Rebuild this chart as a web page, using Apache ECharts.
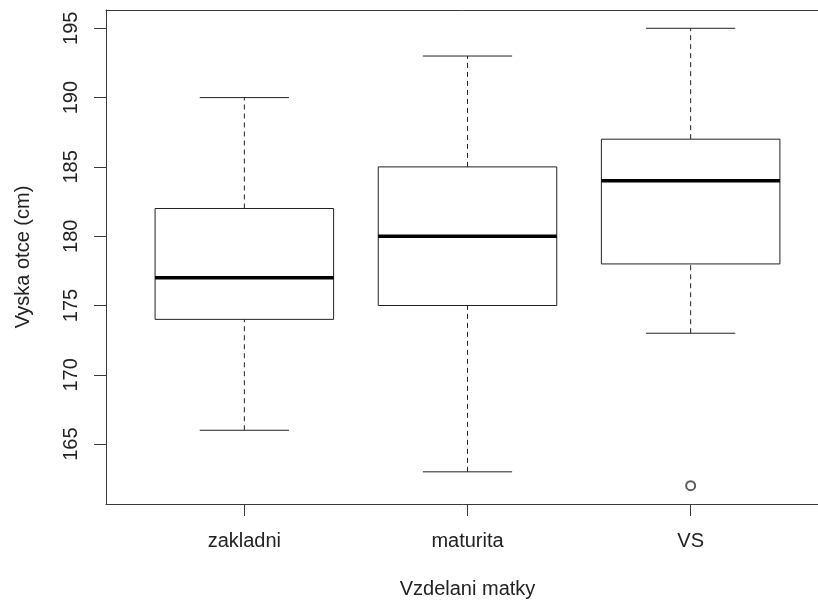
<!DOCTYPE html>
<html>
<head>
<meta charset="utf-8">
<script src="https://cdn.jsdelivr.net/npm/echarts@6/dist/echarts.min.js"></script>
<style>html,body{margin:0;padding:0;background:#fff;}#c{width:818px;height:600px;}</style>
</head>
<body>
<div id="c"></div>
<script>
var categories = ['zakladni', 'maturita', 'VS'];
var whiskerLow = [166, 163, 173];
var q1 = [174, 175, 178];
var medians = [177, 180, 184];
var q3 = [182, 185, 187];
var whiskerHigh = [190, 193, 195];
var outlierGroup = [3];
var outlierValue = [162];
var yTicks = [165, 170, 175, 180, 185, 190, 195];

var boxData = categories.map(function (c, i) {
  return [i + 1, whiskerLow[i], q1[i], medians[i], q3[i], whiskerHigh[i]];
});
var outData = outlierGroup.map(function (g, i) { return [g, outlierValue[i]]; });

var FONT = 'Liberation Sans, Arial, sans-serif';
var FRAME = {color: '#3a3a3a', width: 1};
var chart = echarts.init(document.getElementById('c'), null, {renderer: 'canvas'});
chart.setOption({
  animation: false,
  backgroundColor: '#ffffff',
  grid: {left: 106, top: 10, width: 723, height: 494, outerBoundsMode: 'none', containLabel: false, show: false},
  xAxis: [{
    type: 'value', min: 0.38, max: 3.62, position: 'bottom',
    name: 'Vzdelani matky', nameLocation: 'middle', nameGap: 75,
    nameTextStyle: {fontFamily: FONT, fontSize: 20, color: '#222'},
    axisLine: {show: true, onZero: false, lineStyle: FRAME},
    splitLine: {show: false},
    axisTick: {show: true, length: 12, lineStyle: FRAME, customValues: [1, 2, 3]},
    axisLabel: {show: true, margin: 27, fontFamily: FONT, fontSize: 20, color: '#222',
      customValues: [1, 2, 3],
      formatter: function (v) { return categories[Math.round(v) - 1] || ''; }}
  }, {
    type: 'value', min: 0.38, max: 3.62, position: 'top',
    axisLine: {show: true, onZero: false, lineStyle: FRAME},
    axisTick: {show: false}, axisLabel: {show: false}, splitLine: {show: false}
  }],
  yAxis: {
    type: 'value', min: 160.68, max: 196.32,
    name: 'Vyska otce (cm)', nameLocation: 'middle', nameGap: 73, nameRotate: 90,
    nameTextStyle: {fontFamily: FONT, fontSize: 20, color: '#222'},
    axisLine: {show: true, onZero: false, lineStyle: FRAME},
    splitLine: {show: false},
    axisTick: {show: true, length: 12, lineStyle: FRAME, customValues: yTicks},
    axisLabel: {show: true, rotate: 90, margin: 25, fontFamily: FONT, fontSize: 20, color: '#222',
      customValues: yTicks}
  },
  series: [
    {
      type: 'custom',
      data: boxData,
      renderItem: function (params, api) {
        var x = api.value(0);
        var lo = api.value(1), a = api.value(2), m = api.value(3), b = api.value(4), hi = api.value(5);
        var hw = 0.4, cw = 0.2;
        function P(xx, yy) { return api.coord([xx, yy]); }
        var stroke = '#222';
        var pl = P(x - hw, b), pr = P(x + hw, a);
        var children = [
          {type: 'line', shape: {x1: P(x, b)[0], y1: P(x, b)[1], x2: P(x, hi)[0], y2: P(x, hi)[1]},
            style: {stroke: stroke, lineWidth: 1, lineDash: [5, 4]}},
          {type: 'line', shape: {x1: P(x, lo)[0], y1: P(x, lo)[1], x2: P(x, a)[0], y2: P(x, a)[1]},
            style: {stroke: stroke, lineWidth: 1, lineDash: [5, 4]}},
          {type: 'line', shape: {x1: P(x - cw, hi)[0], y1: P(x, hi)[1], x2: P(x + cw, hi)[0], y2: P(x, hi)[1]},
            style: {stroke: stroke, lineWidth: 1}},
          {type: 'line', shape: {x1: P(x - cw, lo)[0], y1: P(x, lo)[1], x2: P(x + cw, lo)[0], y2: P(x, lo)[1]},
            style: {stroke: stroke, lineWidth: 1}},
          {type: 'rect', shape: {x: pl[0], y: pl[1], width: pr[0] - pl[0], height: pr[1] - pl[1]},
            style: {fill: '#ffffff', stroke: stroke, lineWidth: 1}},
          {type: 'line', shape: {x1: P(x - hw, m)[0], y1: P(x, m)[1], x2: P(x + hw, m)[0], y2: P(x, m)[1]},
            style: {stroke: '#000', lineWidth: 3.5}}
        ];
        return {type: 'group', children: children};
      }
    },
    {
      type: 'scatter',
      data: outData,
      symbol: 'emptyCircle',
      symbolSize: 9,
      itemStyle: {color: '#333', borderColor: '#333', borderWidth: 1}
    }
  ]
});
</script>
</body>
</html>
